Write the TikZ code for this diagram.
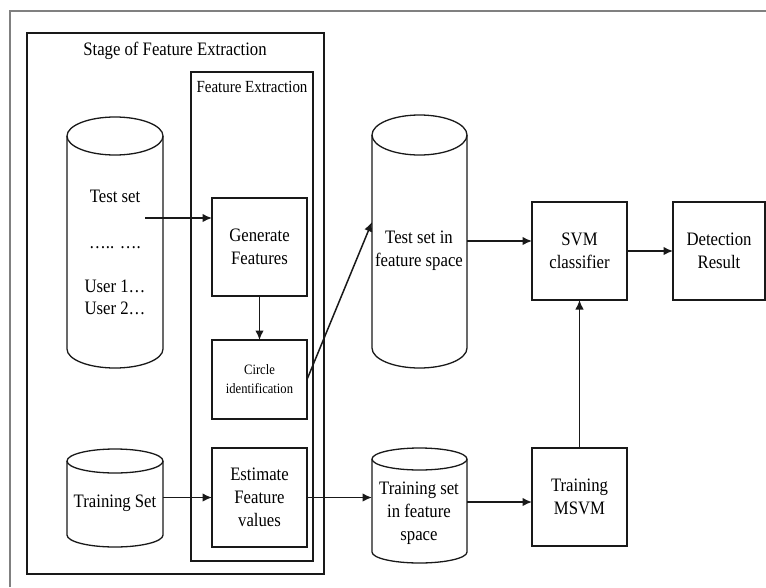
\documentclass[tikz,border=0pt]{standalone}
\usepackage{fontspec}
\setmainfont{Liberation Serif}[FakeStretch=0.88]
\usetikzlibrary{arrows.meta}
\tikzset{
  lin/.style={line width=1.3pt, draw=black!90},
  boxst/.style={lin, rectangle, inner sep=0, outer sep=0, anchor=north west},
  arr/.style={lin, line width=1.5pt, -{Latex[length=9.5pt,width=8.5pt]}},
  txt/.style={font=\fontsize{19}{23}\selectfont, align=center, inner sep=0},
  smalltxt/.style={font=\fontsize{17}{20}\selectfont, align=center, inner sep=0},
  tinytxt/.style={font=\fontsize{14.3}{19}\selectfont, align=center, inner sep=0},
}
\newcommand{\mycyl}[6]{%
  \pgfmathsetmacro{\cylcx}{(#2+#4)/2}%
  \pgfmathsetmacro{\cylrx}{(#4-#2)/2}%
  \pgfmathsetmacro{\cylT}{#3+#6}%
  \pgfmathsetmacro{\cylB}{#5-#6}%
  \node[inner sep=0, outer sep=0, anchor=north west, minimum width={(#4-#2)*1pt}, minimum height={(#5-#3)*1pt}] (#1) at (#2,#3) {};
  \draw[lin] (#2,\cylT) -- (#2,\cylB) arc[start angle=180,end angle=360,x radius=\cylrx pt,y radius=#6pt] -- (#4,\cylT);
  \draw[lin] (\cylcx,\cylT) ellipse[x radius=\cylrx pt, y radius=#6pt];
}
\newcommand{\mybox}[5]{% name, L, T, R, B
  \node[boxst, minimum width={(#4-#2)*1pt}, minimum height={(#5-#3)*1pt}] (#1) at (#2,#3) {};
}
\begin{document}
\begin{tikzpicture}[x=1pt,y=-1pt]
\useasboundingbox (0,0) rectangle (766,587);
% outer frame
\draw[line width=2pt, draw=black!50] (10,587) -- (10,11) -- (766,11);
% stage frame and feature extraction frame
\mybox{stage}{27}{33}{324}{574}
\mybox{fe}{191}{72}{313}{561}
\node[txt, anchor=base] (stagelbl) at (175,55) {Stage of Feature Extraction};
\node[smalltxt, anchor=base] (felbl) at (252,92) {Feature Extraction};
% cylinders
\mycyl{testset}{67}{117}{163}{368}{19}
\mycyl{trainset}{67}{449}{163}{547}{12}
\mycyl{testfs}{372}{115}{467}{368}{20}
\mycyl{trainfs}{372}{448}{467}{563}{11}
\node[txt, anchor=base] (tsl1) at (115,202) {Test set};
\node[txt, anchor=base] (tsl2) at (115,248) {….. ….};
\node[txt, anchor=base] (tsl3) at (115,292) {User 1…};
\node[txt, anchor=base] (tsl4) at (115,314) {User 2…};
\node[txt] (trsl) at (115,503) {Training Set};
\node[txt] (tfsl) at (419,251) {Test set in\\feature space};
\node[txt] (trfsl) at (419,513) {Training set\\in feature\\space};
% boxes
\mybox{gen}{212}{198}{307}{296}
\mybox{circ}{212}{340}{307}{419}
\mybox{est}{212}{448}{307}{547}
\mybox{svm}{532}{202}{627}{300}
\mybox{det}{673}{202}{765}{300}
\mybox{msvm}{532}{448}{627}{546}
\node[txt] (genl) at (gen.center) {Generate\\Features};
\node[tinytxt] (circl) at (circ.center) {Circle\\identification};
\node[txt] (estl) at (est.center) {Estimate\\Feature\\values};
\node[txt] (svml) at (svm.center) {SVM\\classifier};
\node[txt] (detl) at (det.center) {Detection\\Result};
\node[txt] (msvml) at (msvm.center) {Training\\MSVM};
% connectors
\coordinate (tsout) at (145,218);
\coordinate (tfsin) at (372,222);
\coordinate (svmin) at (532,241);
\coordinate (msvmin) at (532,502);
\draw[arr] (tsout) -- (gen.west |- tsout);
\draw[arr] (gen.south) -- (circ.north);
\draw[arr] (circ.east) -- (tfsin);
\draw[arr] (trainset.east |- est.west) -- (est.west);
\draw[arr] (est.east) -- (trainfs.west |- est.east);
\draw[arr] (testfs.east |- svmin) -- (svmin);
\draw[arr] (svm.east) -- (det.west);
\draw[arr] (trainfs.east |- msvmin) -- (msvmin);
\draw[arr] (msvm.north) -- (svm.south);
\end{tikzpicture}
\end{document}
